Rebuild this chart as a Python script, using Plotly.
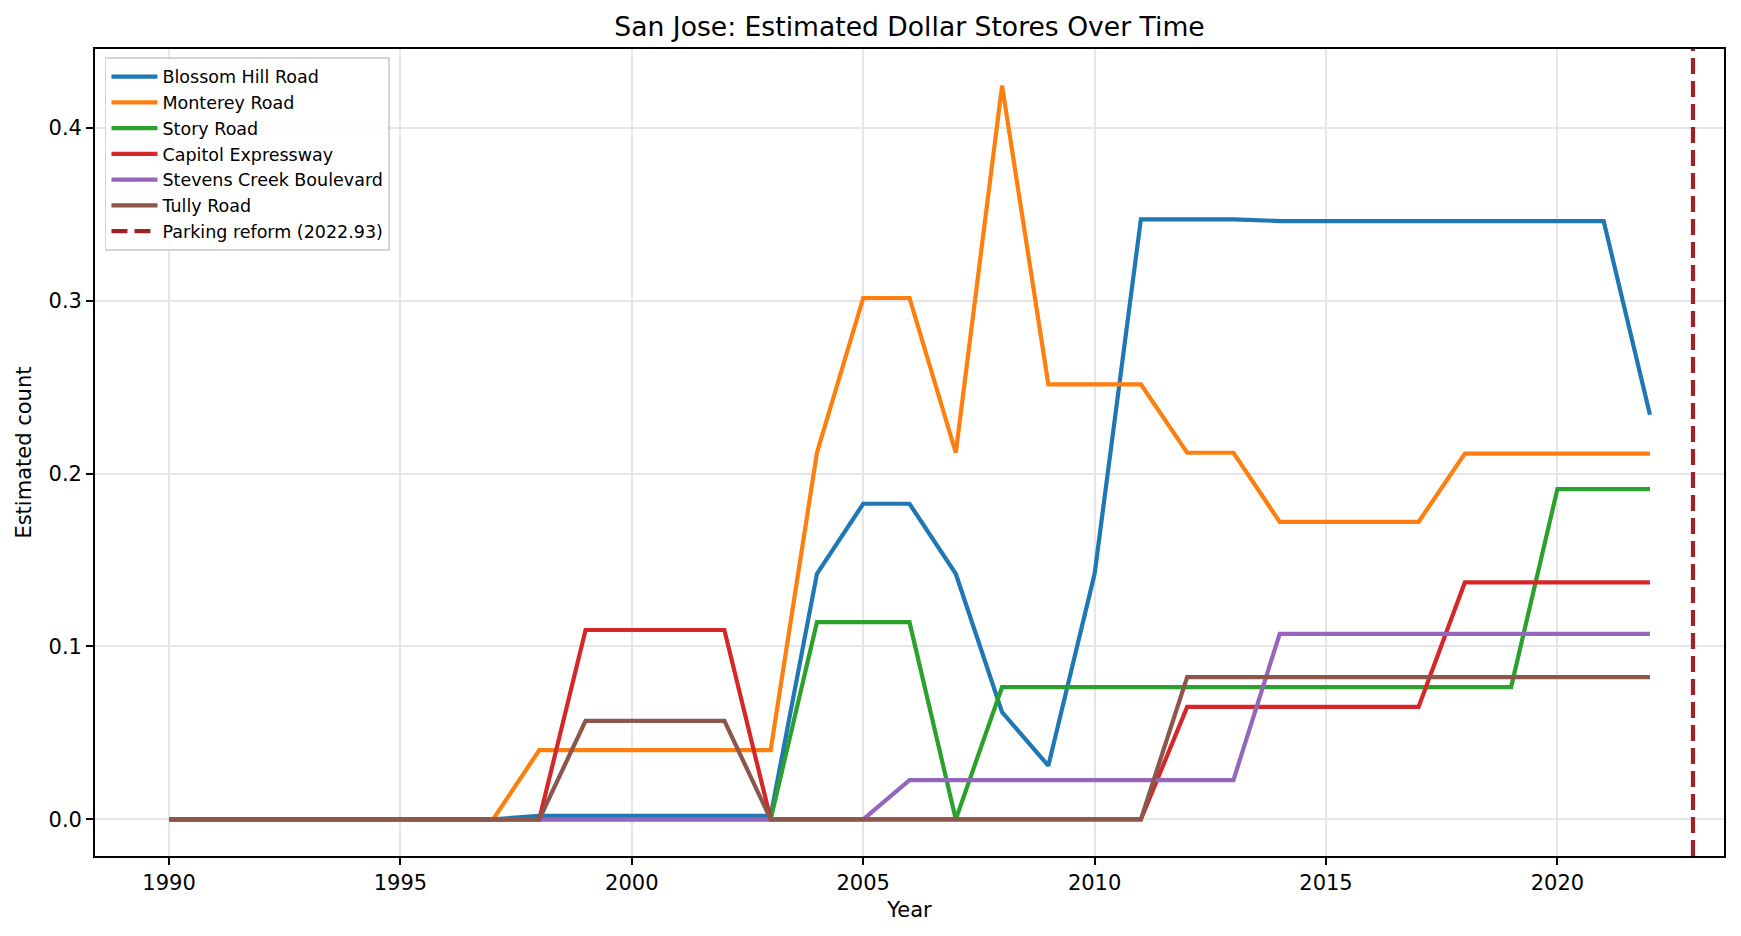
import plotly.graph_objects as go

years = list(range(1990, 2023))

blossom_hill = [0] * 8 + [0.002] * 6 + [0.142, 0.1825, 0.1825, 0.142, 0.062, 0.031, 0.142,
                                      0.347, 0.347, 0.347, 0.346, 0.346, 0.346, 0.346,
                                      0.346, 0.346, 0.346, 0.346, 0.234]
monterey = [0] * 8 + [0.040] * 6 + [0.212, 0.3015, 0.3015, 0.212, 0.4243, 0.2516, 0.2516,
                                   0.2516, 0.212, 0.212, 0.172, 0.172, 0.172, 0.172,
                                   0.2115, 0.2115, 0.2115, 0.2115, 0.2115]
story = [0] * 14 + [0.114, 0.114, 0.114, 0.0, 0.0765, 0.0765, 0.0765, 0.0765, 0.0765,
                    0.0765, 0.0765, 0.0765, 0.0765, 0.0765, 0.0765, 0.0765, 0.191, 0.191, 0.191]
capitol = [0] * 9 + [0.1095] * 4 + [0] * 9 + [0.065] * 6 + [0.137] * 5
stevens_creek = [0] * 16 + [0.0227] * 8 + [0.1073] * 9
tully = [0] * 9 + [0.057] * 4 + [0] * 9 + [0.0823] * 11

series = [
    ("Blossom Hill Road", blossom_hill, "#1f77b4"),
    ("Monterey Road", monterey, "#ff7f0e"),
    ("Story Road", story, "#2ca02c"),
    ("Capitol Expressway", capitol, "#d62728"),
    ("Stevens Creek Boulevard", stevens_creek, "#9467bd"),
    ("Tully Road", tully, "#8c564b"),
]

reform_year = 2022.93

fig = go.Figure()
for name, vals, color in series:
    fig.add_trace(go.Scatter(x=years, y=vals, mode="lines", name=name,
                             line=dict(color=color, width=4.2)))

fig.add_vline(x=reform_year, line=dict(color="#9e2229", width=4.2, dash="16px,7px"),
              showlegend=True, name=f"Parking reform ({reform_year})")

font = "DejaVu Sans, Verdana, sans-serif"
axis_style = dict(
    showline=True, linecolor="black", linewidth=1.7, mirror=True,
    ticks="outside", ticklen=7, tickwidth=1.7, tickcolor="black",
    showgrid=True, gridcolor="#e6e6e6", gridwidth=1.6, zeroline=False,
    tickfont=dict(size=21, color="black", family=font),
)

# page body has an 8px margin, so the figure is a bit smaller than the window
fig.update_layout(
    width=1725, height=920,
    plot_bgcolor="white", paper_bgcolor="white",
    margin=dict(l=87, r=7, t=41, b=72),
    title=dict(text="San Jose: Estimated Dollar Stores Over Time", xref="paper", x=0.5,
               xanchor="center", y=0.9793, yanchor="middle",
               font=dict(size=26.6, color="black", family=font)),
    font=dict(family=font, color="black"),
    legend=dict(x=0.006, y=0.99, xanchor="left", yanchor="top", itemwidth=46,
                bgcolor="rgba(255,255,255,0.85)", bordercolor="#d4d4d4", borderwidth=1.7,
                font=dict(size=17.5, family=font, color="black"), tracegroupgap=0),
)
fig.update_xaxes(range=[1988.4, 2023.6], tickvals=[1990, 1995, 2000, 2005, 2010, 2015, 2020],
                 title=dict(text="Year", font=dict(size=21, family=font), standoff=8), **axis_style)
fig.update_yaxes(range=[-0.0212, 0.4455], tickvals=[0, 0.1, 0.2, 0.3, 0.4], tickformat=".1f",
                 **axis_style)

# y-axis label placed as an annotation so it sits where matplotlib put it
fig.add_annotation(text="Estimated count", textangle=-90, xref="paper", yref="paper",
                   x=-72 / 1631, y=0.5, xanchor="center", yanchor="middle", showarrow=False,
                   font=dict(size=21, family=font, color="black"))

fig.write_html("out.html")
